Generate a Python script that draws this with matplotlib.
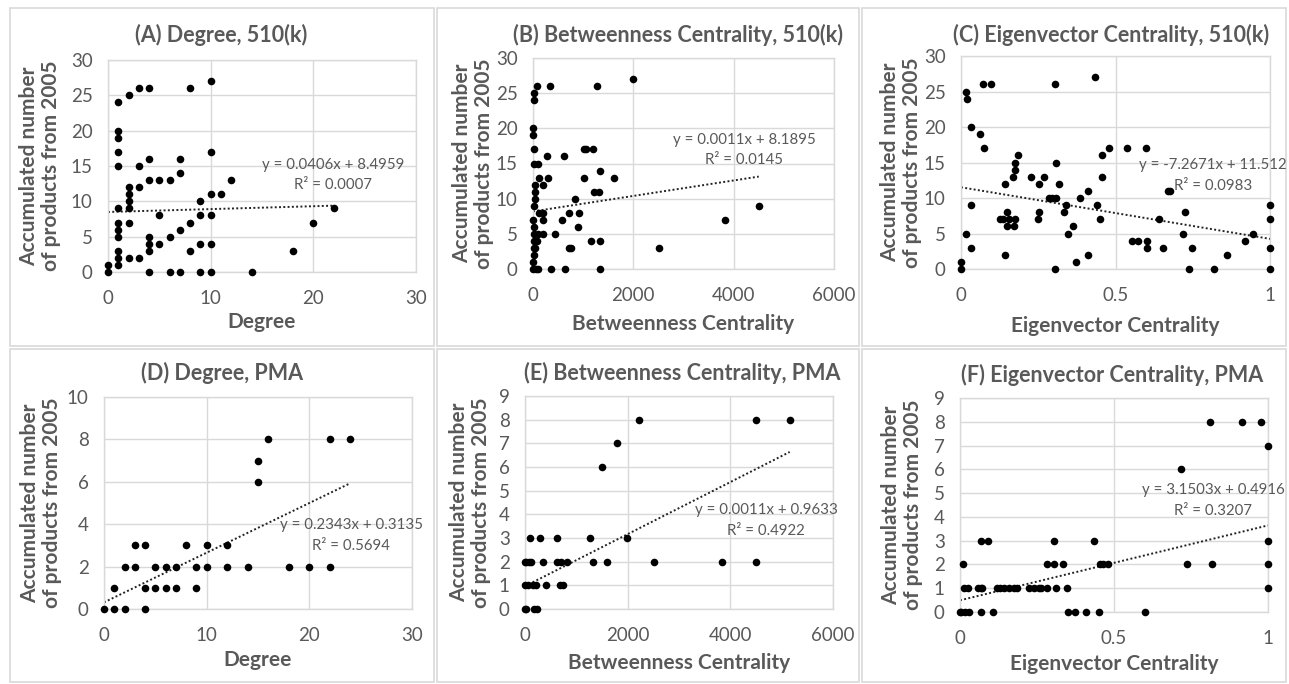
import numpy as np
import matplotlib
matplotlib.use('Agg')
import matplotlib.pyplot as plt
from matplotlib.patches import Rectangle

plt.rcParams['font.family'] = ['Lato', 'DejaVu Sans']

# ---------------- data ----------------
# (A) Degree, 510(k)
a_x = [0, 0,
       1, 1, 1, 1, 1, 1, 1, 1, 1, 1, 1, 1,
       2, 2, 2, 2, 2, 2, 2,
       3, 3, 3, 3,
       4, 4, 4, 4, 4, 4, 4,
       5, 5, 5,
       6, 6, 6,
       7, 7, 7, 7,
       8, 8, 8,
       9, 9, 9, 9,
       10, 10, 10, 10, 10, 10,
       11, 12, 14, 18, 20, 22]
a_y = [0, 1,
       24, 20, 19, 17, 15, 9, 7, 6, 5, 3, 2, 1,
       25, 12, 11, 10, 9, 7, 2,
       26, 15, 12, 2,
       26, 16, 13, 5, 4, 3, 0,
       13, 8, 4,
       13, 5, 0,
       16, 14, 6, 0,
       26, 7, 3,
       10, 8, 4, 0,
       27, 17, 11, 8, 4, 0,
       11, 13, 0, 3, 7, 9]

# (B) Betweenness Centrality, 510(k)
b_x = [1990, 80, 330, 1270, 10, 10, 0, 0, 10, 1020, 1060, 1200, 280, 610,
       10, 100, 1330, 126, 306, 1010, 1610, 30, 200, 30, 1225, 1310,
       30, 830, 20, 4500, 126, 200, 718, 917, 0, 200, 585, 3830,
       10, 890, 10, 100, 200, 445, 20, 80, 1150, 1330,
       20, 40, 724, 757, 2505, 10, 0, 0, 50, 100, 360, 640, 1330]
b_y = [27, 26, 26, 26, 25, 24, 20, 19, 17, 17, 17, 17, 16, 16,
       15, 15, 14, 13, 13, 13, 13, 12, 12, 11, 11, 11,
       10, 10, 9, 9, 8, 8, 8, 8, 7, 7, 7, 7,
       6, 6, 5, 5, 5, 5, 4, 4, 4, 4,
       3, 3, 3, 3, 3, 2, 1, 0, 0, 0, 0, 0, 0]

# (C) Eigenvector Centrality, 510(k)
c_x = [0.435, 0.072, 0.096, 0.304, 0.015, 0.018, 0.032, 0.061,
       0.073, 0.478, 0.537, 0.599, 0.184, 0.456, 0.175, 0.306, 0.176,
       0.169, 0.227, 0.269, 0.456, 0.143, 0.252, 0.318,
       0.410, 0.671, 0.676, 0.286, 0.294, 0.306, 0.384,
       0.033, 0.340, 0.439, 1.0, 0.150, 0.251, 0.333, 0.726,
       0.126, 0.137, 0.154, 0.176, 0.249, 0.450, 0.642, 1.0,
       0.150, 0.172, 0.361, 0.016, 0.346, 0.717, 0.944,
       0.552, 0.574, 0.601, 0.920, 0.033, 0.601, 0.655, 0.748, 1.0,
       0.142, 0.410, 0.862, 0.0, 0.372, 0.0, 0.305, 0.737, 0.818, 1.0]
c_y = [27, 26, 26, 26, 25, 24, 20, 19,
       17, 17, 17, 17, 16, 16, 15, 15, 14,
       13, 13, 13, 13, 12, 12, 12,
       11, 11, 11, 10, 10, 10, 10,
       9, 9, 9, 9, 8, 8, 8, 8,
       7, 7, 7, 7, 7, 7, 7, 7,
       6, 6, 6, 5, 5, 5, 5,
       4, 4, 4, 4, 3, 3, 3, 3, 3,
       2, 2, 2, 1, 1, 0, 0, 0, 0, 0]

# (D) Degree, PMA
d_x = [16, 22, 24, 15, 15,
       3, 4, 8, 10, 12,
       2, 3, 5, 6, 7, 9, 10, 12, 14, 18, 20, 22,
       1, 4, 5, 6, 7, 9,
       0, 1, 2, 4]
d_y = [8, 8, 8, 7, 6,
       3, 3, 3, 3, 3,
       2, 2, 2, 2, 2, 2, 2, 2, 2, 2, 2, 2,
       1, 1, 1, 1, 1, 1,
       0, 0, 0, 0]

# (E) Betweenness Centrality, PMA
e_x = [2214, 4500, 5156, 1786, 1494,
       91, 299, 623, 1266, 1981,
       0, 26, 84, 123, 357, 623, 701, 818, 1325, 1597, 2519, 3838, 4506,
       0, 52, 156, 221, 416, 688, 734,
       0, 26, 169, 234]
e_y = [8, 8, 8, 7, 6,
       3, 3, 3, 3, 3,
       2, 2, 2, 2, 2, 2, 2, 2, 2, 2, 2, 2, 2,
       1, 1, 1, 1, 1, 1, 1,
       0, 0, 0, 0]

# (F) Eigenvector Centrality, PMA
f_x = [0.812, 0.914, 0.976, 1.0, 0.716,
       0.068, 0.092, 0.304, 0.434, 1.0,
       0.011, 0.284, 0.304, 0.334, 0.456, 0.465, 0.482, 0.738, 0.818, 1.0,
       0.013, 0.027, 0.059, 0.067, 0.072, 0.119, 0.130, 0.143, 0.159, 0.175,
       0.184, 0.224, 0.240, 0.255, 0.262, 0.284, 0.311, 0.346, 1.0,
       0.0, 0.004, 0.017, 0.030, 0.068, 0.107, 0.350, 0.374, 0.410, 0.451, 0.600]
f_y = [8, 8, 8, 7, 6,
       3, 3, 3, 3, 3,
       2, 2, 2, 2, 2, 2, 2, 2, 2, 2,
       1, 1, 1, 1, 1, 1, 1, 1, 1, 1,
       1, 1, 1, 1, 1, 1, 1, 1, 1,
       0, 0, 0, 0, 0, 0, 0, 0, 0, 0, 0]

titles = ['(A) Degree, 510(k)', '(B) Betweenness Centrality, 510(k)',
          '(C) Eigenvector Centrality, 510(k)', '(D) Degree, PMA',
          '(E) Betweenness Centrality, PMA', '(F) Eigenvector Centrality, PMA']
x_labels = ['Degree', 'Betweenness Centrality', 'Eigenvector Centrality',
            'Degree', 'Betweenness Centrality', 'Eigenvector Centrality']
y_label = 'Accumulated number\nof products from 2005'
trend_slope = [0.0406, 0.0011, -7.2671, 0.2343, 0.0011, 3.1503]
trend_intercept = [8.4959, 8.1895, 11.512, 0.3135, 0.9633, 0.4916]
eq_labels = ['y = 0.0406x + 8.4959', 'y = 0.0011x + 8.1895', 'y = -7.2671x + 11.512',
             'y = 0.2343x + 0.3135', 'y = 0.0011x + 0.9633', 'y = 3.1503x + 0.4916']
r2_labels = ['R² = 0.0007', 'R² = 0.0145', 'R² = 0.0983',
             'R² = 0.5694', 'R² = 0.4922', 'R² = 0.3207']
x_ticks = [[0, 10, 20, 30], [0, 2000, 4000, 6000], [0, 0.5, 1]] * 2
x_ticklabels = [['0', '10', '20', '30'], ['0', '2000', '4000', '6000'], ['0', '0.5', '1']] * 2
y_ticks = [list(range(0, 31, 5))] * 3 + [list(range(0, 11, 2))] + [list(range(0, 10))] * 2

xs = [a_x, b_x, c_x, d_x, e_x, f_x]
ys = [a_y, b_y, c_y, d_y, e_y, f_y]

# ---------------- layout (pixels) ----------------
W, H = 1289, 684
fig = plt.figure(figsize=(W / 100, H / 100), dpi=100)
fig.patch.set_facecolor('white')

TXT = '#595959'
GRID = '#d9d9d9'

# axes boxes: left, right, top, bottom (px)
axes_px = [(108, 416, 60, 272), (533, 834, 58, 269), (961, 1270, 56, 269),
           (104, 412, 397, 609), (525, 833, 396, 609), (960, 1268, 398, 612)]
# panel boxes
panel_px = [(10, 434, 8, 346), (437, 859, 8, 346), (862, 1286, 8, 346),
            (10, 434, 349, 682), (437, 859, 349, 682), (862, 1286, 349, 682)]
title_pos = [(221, 35), (678, 35), (1111, 35), (222, 373), (682, 373), (1112, 375)]
ylab_cx = [40, 473, 901, 41, 470, 902]
xlab_base = [328, 330, 332, 666, 669, 670]
eq_pos = [(333, 165, 185), (744, 140, 160), (1213, 165, 186),
          (351, 525, 546), (766, 510, 531), (1213, 490, 511)]

for (l, r, t, b) in panel_px:
    fig.add_artist(Rectangle((l / W, 1 - b / H), (r - l) / W, (b - t) / H,
                             transform=fig.transFigure, facecolor='none',
                             edgecolor=GRID, lw=1.2))

for i in range(6):
    l, r, t, b = axes_px[i]
    ax = fig.add_axes([l / W, 1 - b / H, (r - l) / W, (b - t) / H])
    ax.set_facecolor('white')
    x = np.array(xs[i], dtype=float)
    y = np.array(ys[i], dtype=float)
    ax.scatter(x, y, s=30, color='black', zorder=3, clip_on=False, linewidths=0)
    xt = x_ticks[i]
    yt = y_ticks[i]
    ax.set_xlim(xt[0], xt[-1])
    ax.set_ylim(yt[0], yt[-1])
    # trendline
    xl = np.array([0.0, x.max()])
    ax.plot(xl, trend_slope[i] * xl + trend_intercept[i], color='#222222',
            lw=1.4, ls=(0, (1, 1.2)), zorder=2)
    ax.set_xticks(xt)
    ax.set_xticklabels(x_ticklabels[i])
    ax.set_yticks(yt)
    ax.grid(True, color=GRID, lw=1.0)
    ax.set_axisbelow(True)
    for sp in ax.spines.values():
        sp.set_color(GRID)
        sp.set_linewidth(1.0)
    ax.tick_params(length=0, labelsize=13.5, labelcolor=TXT)
    ax.tick_params(axis='x', pad=13)
    ax.tick_params(axis='y', pad=11)
    # equation
    ex, ey1, ey2 = eq_pos[i]
    fig.text(ex / W, 1 - ey1 / H, eq_labels[i], ha='center', va='center',
             fontsize=10.8, color=TXT)
    fig.text(ex / W, 1 - ey2 / H, r2_labels[i], ha='center', va='center',
             fontsize=10.8, color=TXT)
    # titles and labels
    tx, ty = title_pos[i]
    fig.text(tx / W, 1 - ty / H, titles[i], ha='center', va='center',
             fontsize=15.5, fontweight='bold', color=TXT)
    fig.text(ylab_cx[i] / W, 1 - ((t + b) / 2) / H, y_label, rotation=90,
             ha='center', va='center', fontsize=15, fontweight='bold',
             color=TXT, linespacing=1.15, multialignment='center')
    fig.text(((l + r) / 2) / W, 1 - xlab_base[i] / H, x_labels[i],
             ha='center', va='baseline', fontsize=15, fontweight='bold',
             color=TXT)

fig.savefig('out.png', dpi=100, facecolor='white')
